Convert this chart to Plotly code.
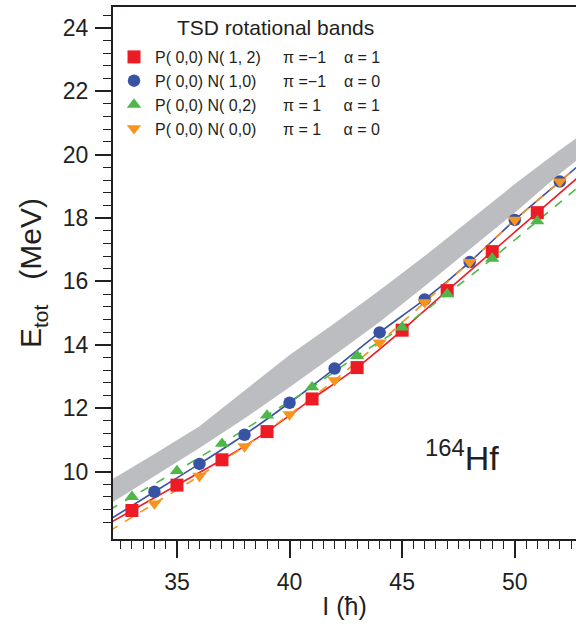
import numpy as np
import plotly.graph_objects as go

# ---------------- data ----------------
I_odd = [33, 35, 37, 39, 41, 43, 45, 47, 49, 51]
I_even = [34, 36, 38, 40, 42, 44, 46, 48, 50, 52]

E_red = [8.77, 9.57, 10.37, 11.26, 12.29, 13.28, 14.46, 15.71, 16.94, 18.17]      # N(1,2) pi=-1 a=1
E_blue = [9.36, 10.24, 11.16, 12.17, 13.25, 14.39, 15.43, 16.61, 17.94, 19.15]    # N(1,0) pi=-1 a=0
E_green = [9.20, 10.02, 10.88, 11.77, 12.66, 13.65, 14.55, 15.60, 16.72, 17.90]   # N(0,2) pi=1 a=1
E_orange = [8.99, 9.86, 10.79, 11.80, 12.88, 14.07, 15.34, 16.61, 17.94, 19.15]   # N(0,0) pi=1 a=0

band_I = [32, 34, 36, 38, 40, 42, 44, 46, 48, 50, 52, 53]
band_low = [8.97, 9.85, 10.74, 11.67, 12.66, 13.68, 14.72, 15.85, 17.00, 18.17, 19.40, 19.95]
band_up = [9.70, 10.55, 11.43, 12.55, 13.68, 14.68, 15.72, 16.80, 17.93, 19.07, 20.15, 20.65]

y_major = [10, 12, 14, 16, 18, 20, 22, 24]
x_major = [35, 40, 45, 50]

NB = "\u00a0"
names = [
    "P( 0,0) N( 1, 2)" + NB * 5 + "\u03c0 =\u22121" + NB * 4 + "\u03b1 = 1",
    "P( 0,0) N( 1,0)" + NB * 6 + "\u03c0 =\u22121" + NB * 4 + "\u03b1 = 0",
    "P( 0,0) N( 0,2)" + NB * 6 + "\u03c0 = 1" + NB * 5 + "\u03b1 = 1",
    "P( 0,0) N( 0,0)" + NB * 6 + "\u03c0 = 1" + NB * 5 + "\u03b1 = 0",
]

RED, BLUE, GREEN, ORANGE = "#ED1C24", "#3953A4", "#4DB848", "#F7941D"
GRAY = "#BCBDC0"
INK = "#231F20"
FONT = "Liberation Sans, Arial, Helvetica, sans-serif"

XR = [32.16, 52.72]
YR = [7.87, 24.66]

fig = go.Figure()

# gray band
fig.add_trace(go.Scatter(x=band_I + band_I[::-1], y=band_low + band_up[::-1],
                         fill="toself", fillcolor=GRAY, line=dict(width=0),
                         mode="lines", showlegend=False, hoverinfo="skip"))


def extended(xs, ys):
    xs = list(xs); ys = list(ys)
    s0 = (ys[1] - ys[0]) / (xs[1] - xs[0])
    s1 = (ys[-1] - ys[-2]) / (xs[-1] - xs[-2])
    x0 = 32.0; x1 = 53.5
    return ([x0] + xs + [x1],
            [ys[0] - s0 * (xs[0] - x0)] + ys + [ys[-1] + s1 * (x1 - xs[-1])])


series = [
    (I_odd, E_red, RED, "solid", "square", 13, names[0]),
    (I_even, E_blue, BLUE, "solid", "circle", 12.5, names[1]),
    (I_odd, E_green, GREEN, "dash", "triangle-up", 12.5, names[2]),
    (I_even, E_orange, ORANGE, "dash", "triangle-down", 12.5, names[3]),
]

for xs, ys, c, dash, sym, sz, nm in series:
    lx, ly = extended(xs, ys)
    fig.add_trace(go.Scatter(x=lx, y=ly, mode="lines",
                             line=dict(color=c, width=1.6, dash=dash, shape="spline", smoothing=0.6),
                             showlegend=False, hoverinfo="skip"))

for xs, ys, c, dash, sym, sz, nm in series:
    fig.add_trace(go.Scatter(x=xs, y=ys, mode="markers", name=nm,
                             marker=dict(symbol=sym, size=sz, color=c, line=dict(width=0))))

fig.add_annotation(x=(275 - 113) / 463, y=1 - (27 - 7) / 532, xref="paper", yref="paper",
                   xanchor="center", yanchor="middle",
                   text="TSD rotational bands", showarrow=False,
                   font=dict(family=FONT, size=21, color=INK))

fig.add_annotation(x=47.65, y=10.5, xref="x", yref="y",
                   text="<sup>164</sup>Hf", showarrow=False,
                   font=dict(family=FONT, size=34, color=INK))

axis_common = dict(showgrid=False, zeroline=False, showline=True, linecolor=INK, linewidth=2,
                   ticks="outside", tickcolor=INK, tickwidth=1.5, automargin=False,
                   tickfont=dict(family=FONT, size=23, color=INK))

x_minor = [v for v in np.arange(32.5, 52.75, 0.5)]
y_minor = [round(v, 2) for v in np.arange(8.4, 24.65, 0.4)]

fig.update_xaxes(range=XR, tickmode="array", tickvals=x_major, ticklen=17, mirror=True,
                 ticklabelstandoff=4,
                 minor=dict(tickmode="array", tickvals=x_minor, ticklen=8, ticks="outside",
                            tickcolor=INK, tickwidth=1.3),
                 title=dict(text="I (\u0127)", font=dict(family=FONT, size=25, color=INK), standoff=4),
                 **axis_common)
fig.update_yaxes(range=YR, tickmode="array", tickvals=y_major, ticklen=16,
                 ticklabelstandoff=2,
                 minor=dict(tickmode="array", tickvals=y_minor, ticklen=8, ticks="outside",
                            tickcolor=INK, tickwidth=1.3),
                 title=dict(text="E<sub>tot</sub>" + NB * 3 + "(MeV)",
                            font=dict(family=FONT, size=30, color=INK), standoff=12),
                 **axis_common)

fig.update_layout(
    width=576, height=626,
    margin=dict(l=113, r=0, t=7, b=87),
    plot_bgcolor="white", paper_bgcolor="white",
    font=dict(family=FONT, color=INK),
    legend=dict(x=0.0, y=1 - (40 - 7) / 532, xanchor="left", yanchor="top",
                bgcolor="rgba(0,0,0,0)", font=dict(family=FONT, size=16, color=INK),
                itemwidth=32, tracegroupgap=0),
)

fig.write_html("out.html", config={"displayModeBar": False},
               post_script="document.body.style.margin='0px';document.body.style.overflow='hidden';")
